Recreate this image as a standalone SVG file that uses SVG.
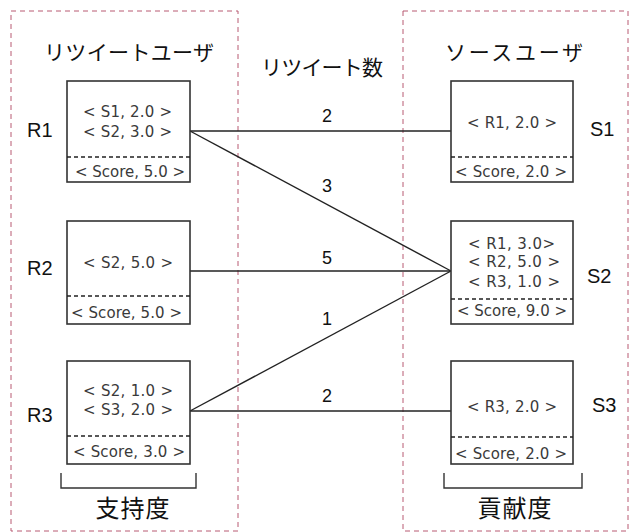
<svg xmlns="http://www.w3.org/2000/svg" width="631" height="532" viewBox="0 0 631 532">
<style>
.frame{fill:none;stroke:#b85a72;stroke-width:1;stroke-dasharray:5,4}
.box{fill:#fff;stroke:#333;stroke-width:1.6}
.div{stroke:#222;stroke-width:1.3;stroke-dasharray:4,3}
.conn{stroke:#222;stroke-width:1.4;fill:none}
.bt{font-family:"DejaVu Sans","Noto Sans CJK JP",sans-serif;font-size:15px;fill:#3a3a3a}
.lab{font-family:"Liberation Sans",Arial,sans-serif;font-size:20px;fill:#111}
.num{font-family:"Liberation Sans",Arial,sans-serif;font-size:18px;fill:#111;text-anchor:middle}
.hd{font-family:"Noto Sans CJK JP",sans-serif;font-size:21px;fill:#111;text-anchor:middle}
.ft{font-family:"Noto Sans CJK JP",sans-serif;font-size:24px;fill:#111;text-anchor:middle}
.br{fill:none;stroke:#333;stroke-width:1.4}
</style>
<rect width="631" height="532" fill="#fff"/>
<rect class="frame" x="11" y="11" width="227" height="520"/>
<rect class="frame" x="403" y="11" width="225" height="520"/>
<text class="hd" x="129" y="60" textLength="170">リツイートユーザ</text>
<text class="hd" x="322" y="75" textLength="122">リツイート数</text>
<text class="hd" x="514" y="60" textLength="138">ソースユーザ</text>
<g id="connectors">
<line class="conn" x1="190" y1="131" x2="451" y2="131"/>
<line class="conn" x1="190" y1="131" x2="451" y2="271"/>
<line class="conn" x1="190" y1="271" x2="451" y2="271"/>
<line class="conn" x1="190" y1="411" x2="451" y2="271"/>
<line class="conn" x1="190" y1="411" x2="451" y2="411"/>
<text class="num" x="327" y="121.5">2</text>
<text class="num" x="327" y="191.5">3</text>
<text class="num" x="327" y="263.5">5</text>
<text class="num" x="327" y="324.5">1</text>
<text class="num" x="327" y="401.5">2</text>
</g>
<g id="R1">
<rect class="box" x="67" y="81" width="123" height="101"/>
<line class="div" x1="67" y1="157" x2="190" y2="157"/>
<text class="bt" x="83" y="117" textLength="89">&lt; S1, 2.0 &gt;</text>
<text class="bt" x="83" y="137" textLength="89">&lt; S2, 3.0 &gt;</text>
<text class="bt" x="75" y="177" textLength="110">&lt; Score, 5.0 &gt;</text>
<text class="lab" x="27" y="137">R1</text>
</g>
<g id="R2">
<rect class="box" x="67" y="221" width="123" height="103"/>
<line class="div" x1="67" y1="296" x2="190" y2="296"/>
<text class="bt" x="83" y="268" textLength="90">&lt; S2, 5.0 &gt;</text>
<text class="bt" x="71" y="318" textLength="111">&lt; Score, 5.0 &gt;</text>
<text class="lab" x="27" y="275">R2</text>
</g>
<g id="R3">
<rect class="box" x="67" y="361" width="123" height="103"/>
<line class="div" x1="67" y1="436" x2="190" y2="436"/>
<text class="bt" x="83" y="396" textLength="90">&lt; S2, 1.0 &gt;</text>
<text class="bt" x="83" y="415" textLength="90">&lt; S3, 2.0 &gt;</text>
<text class="bt" x="73" y="457" textLength="112">&lt; Score, 3.0 &gt;</text>
<text class="lab" x="27" y="422">R3</text>
</g>
<g id="S1">
<rect class="box" x="451" y="81" width="122" height="101"/>
<line class="div" x1="451" y1="157" x2="573" y2="157"/>
<text class="bt" x="467" y="128" textLength="90">&lt; R1, 2.0 &gt;</text>
<text class="bt" x="455" y="177" textLength="112">&lt; Score, 2.0 &gt;</text>
<text class="lab" x="590" y="136">S1</text>
</g>
<g id="S2">
<rect class="box" x="451" y="221" width="122" height="103"/>
<line class="div" x1="451" y1="299" x2="573" y2="299"/>
<text class="bt" x="468" y="249" textLength="87">&lt; R1, 3.0&gt;</text>
<text class="bt" x="468" y="267" textLength="92">&lt; R2, 5.0 &gt;</text>
<text class="bt" x="468" y="287" textLength="92">&lt; R3, 1.0 &gt;</text>
<text class="bt" x="457" y="316" textLength="110">&lt; Score, 9.0 &gt;</text>
<text class="lab" x="587" y="283">S2</text>
</g>
<g id="S3">
<rect class="box" x="451" y="361" width="122" height="103"/>
<line class="div" x1="451" y1="437" x2="573" y2="437"/>
<text class="bt" x="467" y="412" textLength="90">&lt; R3, 2.0 &gt;</text>
<text class="bt" x="455" y="459" textLength="112">&lt; Score, 2.0 &gt;</text>
<text class="lab" x="592" y="412">S3</text>
</g>
<g id="support">
<path class="br" d="M61,473 V488 H196 V473"/>
<text class="ft" x="132.5" y="517" textLength="74">支持度</text>
</g>
<g id="contribution">
<path class="br" d="M444,473 V488 H582 V473"/>
<text class="ft" x="514.5" y="517" textLength="74">貢献度</text>
</g>
</svg>
